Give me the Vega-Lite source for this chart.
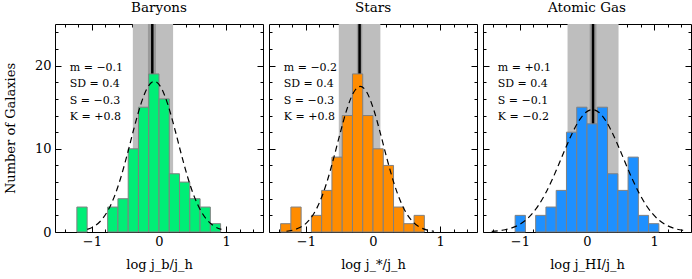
{
  "$schema": "https://vega.github.io/schema/vega-lite/v6.json",
  "padding": {"left": 3, "top": 0, "right": 2, "bottom": 2},
  "background": "white",
  "datasets": {
    "bars": [
      {"panel": "Baryons", "x0": -1.224, "x1": -1.071, "n": 3},
      {"panel": "Baryons", "x0": -0.765, "x1": -0.612, "n": 3},
      {"panel": "Baryons", "x0": -0.612, "x1": -0.459, "n": 4},
      {"panel": "Baryons", "x0": -0.459, "x1": -0.306, "n": 10},
      {"panel": "Baryons", "x0": -0.306, "x1": -0.153, "n": 15},
      {"panel": "Baryons", "x0": -0.153, "x1": 0, "n": 19},
      {"panel": "Baryons", "x0": 0, "x1": 0.153, "n": 16},
      {"panel": "Baryons", "x0": 0.153, "x1": 0.306, "n": 7},
      {"panel": "Baryons", "x0": 0.306, "x1": 0.459, "n": 6},
      {"panel": "Baryons", "x0": 0.459, "x1": 0.612, "n": 4},
      {"panel": "Baryons", "x0": 0.612, "x1": 0.765, "n": 3},
      {"panel": "Baryons", "x0": 0.765, "x1": 0.918, "n": 1},
      {"panel": "Stars", "x0": -1.377, "x1": -1.224, "n": 1},
      {"panel": "Stars", "x0": -1.224, "x1": -1.071, "n": 3},
      {"panel": "Stars", "x0": -0.918, "x1": -0.765, "n": 2},
      {"panel": "Stars", "x0": -0.765, "x1": -0.612, "n": 5},
      {"panel": "Stars", "x0": -0.612, "x1": -0.459, "n": 9},
      {"panel": "Stars", "x0": -0.459, "x1": -0.306, "n": 14},
      {"panel": "Stars", "x0": -0.306, "x1": -0.153, "n": 19},
      {"panel": "Stars", "x0": -0.153, "x1": 0, "n": 14},
      {"panel": "Stars", "x0": 0, "x1": 0.153, "n": 10},
      {"panel": "Stars", "x0": 0.153, "x1": 0.306, "n": 8},
      {"panel": "Stars", "x0": 0.306, "x1": 0.459, "n": 3},
      {"panel": "Stars", "x0": 0.459, "x1": 0.612, "n": 1},
      {"panel": "Stars", "x0": 0.612, "x1": 0.765, "n": 2},
      {"panel": "Atomic Gas", "x0": -1.071, "x1": -0.918, "n": 2},
      {"panel": "Atomic Gas", "x0": -0.765, "x1": -0.612, "n": 2},
      {"panel": "Atomic Gas", "x0": -0.612, "x1": -0.459, "n": 3},
      {"panel": "Atomic Gas", "x0": -0.459, "x1": -0.306, "n": 5},
      {"panel": "Atomic Gas", "x0": -0.306, "x1": -0.153, "n": 12},
      {"panel": "Atomic Gas", "x0": -0.153, "x1": 0, "n": 15},
      {"panel": "Atomic Gas", "x0": 0, "x1": 0.153, "n": 13},
      {"panel": "Atomic Gas", "x0": 0.153, "x1": 0.306, "n": 15},
      {"panel": "Atomic Gas", "x0": 0.306, "x1": 0.459, "n": 7},
      {"panel": "Atomic Gas", "x0": 0.459, "x1": 0.612, "n": 5},
      {"panel": "Atomic Gas", "x0": 0.612, "x1": 0.765, "n": 9},
      {"panel": "Atomic Gas", "x0": 0.765, "x1": 0.918, "n": 2},
      {"panel": "Atomic Gas", "x0": 0.918, "x1": 1.071, "n": 1}
    ],
    "bands": [
      {"panel": "Baryons", "lo": -0.39, "hi": 0.21, "dlo": -0.165, "dhi": -0.045, "m": -0.10},
      {"panel": "Stars", "lo": -0.51, "hi": 0.11, "dlo": -0.24, "dhi": -0.16, "m": -0.20},
      {"panel": "Atomic Gas", "lo": -0.29, "hi": 0.47, "dlo": 0.04, "dhi": 0.14, "m": 0.09}
    ],
    "stats": [
      {"panel": "Baryons", "txt": "m = −0.1\nSD = 0.4\nS = −0.3\nK = +0.8"},
      {"panel": "Stars", "txt": "m = −0.2\nSD = 0.4\nS = −0.3\nK = +0.8"},
      {"panel": "Atomic Gas", "txt": "m = +0.1\nSD = 0.4\nS = −0.1\nK = −0.2"}
    ],
    "curves": [
      {"panel": "Baryons", "x": -1.07, "y": 0.31},
      {"panel": "Baryons", "x": -0.97, "y": 0.66},
      {"panel": "Baryons", "x": -0.87, "y": 1.33},
      {"panel": "Baryons", "x": -0.77, "y": 2.45},
      {"panel": "Baryons", "x": -0.67, "y": 4.16},
      {"panel": "Baryons", "x": -0.57, "y": 6.52},
      {"panel": "Baryons", "x": -0.47, "y": 9.42},
      {"panel": "Baryons", "x": -0.37, "y": 12.54},
      {"panel": "Baryons", "x": -0.27, "y": 15.37},
      {"panel": "Baryons", "x": -0.17, "y": 17.38},
      {"panel": "Baryons", "x": -0.07, "y": 18.1},
      {"panel": "Baryons", "x": 0.03, "y": 17.38},
      {"panel": "Baryons", "x": 0.13, "y": 15.37},
      {"panel": "Baryons", "x": 0.23, "y": 12.54},
      {"panel": "Baryons", "x": 0.33, "y": 9.42},
      {"panel": "Baryons", "x": 0.43, "y": 6.52},
      {"panel": "Baryons", "x": 0.53, "y": 4.16},
      {"panel": "Baryons", "x": 0.63, "y": 2.45},
      {"panel": "Baryons", "x": 0.73, "y": 1.33},
      {"panel": "Baryons", "x": 0.83, "y": 0.66},
      {"panel": "Baryons", "x": 0.93, "y": 0.31},
      {"panel": "Stars", "x": -1.29, "y": 0.09},
      {"panel": "Stars", "x": -1.19, "y": 0.23},
      {"panel": "Stars", "x": -1.09, "y": 0.53},
      {"panel": "Stars", "x": -0.99, "y": 1.10},
      {"panel": "Stars", "x": -0.89, "y": 2.10},
      {"panel": "Stars", "x": -0.79, "y": 3.69},
      {"panel": "Stars", "x": -0.69, "y": 5.93},
      {"panel": "Stars", "x": -0.59, "y": 8.76},
      {"panel": "Stars", "x": -0.49, "y": 11.86},
      {"panel": "Stars", "x": -0.39, "y": 14.72},
      {"panel": "Stars", "x": -0.29, "y": 16.76},
      {"panel": "Stars", "x": -0.19, "y": 17.5},
      {"panel": "Stars", "x": -0.09, "y": 16.76},
      {"panel": "Stars", "x": 0.01, "y": 14.72},
      {"panel": "Stars", "x": 0.11, "y": 11.86},
      {"panel": "Stars", "x": 0.21, "y": 8.76},
      {"panel": "Stars", "x": 0.31, "y": 5.93},
      {"panel": "Stars", "x": 0.41, "y": 3.69},
      {"panel": "Stars", "x": 0.51, "y": 2.10},
      {"panel": "Stars", "x": 0.61, "y": 1.10},
      {"panel": "Stars", "x": 0.71, "y": 0.53},
      {"panel": "Stars", "x": 0.81, "y": 0.23},
      {"panel": "Stars", "x": 0.91, "y": 0.09},
      {"panel": "Atomic Gas", "x": -1.42, "y": 0.07},
      {"panel": "Atomic Gas", "x": -1.32, "y": 0.14},
      {"panel": "Atomic Gas", "x": -1.22, "y": 0.27},
      {"panel": "Atomic Gas", "x": -1.12, "y": 0.49},
      {"panel": "Atomic Gas", "x": -1.02, "y": 0.84},
      {"panel": "Atomic Gas", "x": -0.92, "y": 1.38},
      {"panel": "Atomic Gas", "x": -0.82, "y": 2.17},
      {"panel": "Atomic Gas", "x": -0.72, "y": 3.24},
      {"panel": "Atomic Gas", "x": -0.62, "y": 4.62},
      {"panel": "Atomic Gas", "x": -0.52, "y": 6.28},
      {"panel": "Atomic Gas", "x": -0.42, "y": 8.14},
      {"panel": "Atomic Gas", "x": -0.32, "y": 10.07},
      {"panel": "Atomic Gas", "x": -0.22, "y": 11.88},
      {"panel": "Atomic Gas", "x": -0.12, "y": 13.37},
      {"panel": "Atomic Gas", "x": -0.02, "y": 14.36},
      {"panel": "Atomic Gas", "x": 0.08, "y": 14.7},
      {"panel": "Atomic Gas", "x": 0.18, "y": 14.36},
      {"panel": "Atomic Gas", "x": 0.28, "y": 13.37},
      {"panel": "Atomic Gas", "x": 0.38, "y": 11.88},
      {"panel": "Atomic Gas", "x": 0.48, "y": 10.07},
      {"panel": "Atomic Gas", "x": 0.58, "y": 8.14},
      {"panel": "Atomic Gas", "x": 0.68, "y": 6.28},
      {"panel": "Atomic Gas", "x": 0.78, "y": 4.62},
      {"panel": "Atomic Gas", "x": 0.88, "y": 3.24},
      {"panel": "Atomic Gas", "x": 0.98, "y": 2.17},
      {"panel": "Atomic Gas", "x": 1.08, "y": 1.38},
      {"panel": "Atomic Gas", "x": 1.18, "y": 0.84},
      {"panel": "Atomic Gas", "x": 1.28, "y": 0.49},
      {"panel": "Atomic Gas", "x": 1.38, "y": 0.27},
      {"panel": "Atomic Gas", "x": 1.48, "y": 0.14}
    ]
  },
  "config": {
    "view": {"stroke": "black", "strokeWidth": 1},
    "concat": {"spacing": 4},
    "title": {"font": "DejaVu Serif", "fontSize": 13.5, "fontWeight": "normal", "color": "black", "offset": 8},
    "axis": {
      "domain": false, "grid": false, "tickColor": "black", "tickWidth": 1, "zindex": 2,
      "labelFont": "DejaVu Serif", "labelFontSize": 13, "labelColor": "black",
      "titleFont": "DejaVu Serif", "titleFontSize": 13, "titleFontWeight": "normal", "titleColor": "black",
      "labelFlush": false, "labelOverlap": false
    }
  },
  "hconcat": [
    {
      "width": 208, "height": 208,
      "title": {"text": "Baryons", "fontWeight": "normal"},
      "resolve": {"axis": {"x": "independent", "y": "independent"}},
      "layer": [
        {
          "data": {"name": "bands"}, "transform": [{"filter": "datum.panel == 'Baryons'"}],
          "mark": {"type": "rect", "color": "#bebebe"},
          "encoding": {
            "x": {"field": "lo", "type": "quantitative", "scale": {"domain": [-1.55, 1.55], "nice": false}, "axis": {"orient": "bottom", "values": [-1, 0, 1], "format": "d", "tickSize": -6, "labelPadding": 9, "title": "log j_b/j_h", "titlePadding": 10}},
            "x2": {"field": "hi"},
            "y": {"datum": 0, "type": "quantitative", "scale": {"domain": [0, 25], "nice": false}, "axis": {"orient": "left", "values": [0, 10, 20], "format": "d", "tickSize": -6, "labelPadding": 10, "title": "Number of Galaxies", "titlePadding": 17}},
            "y2": {"datum": 25}
          }
        },
        {
          "data": {"name": "bands"}, "transform": [{"filter": "datum.panel == 'Baryons'"}],
          "mark": {"type": "rect", "color": "#9a9a9a"},
          "encoding": {
            "x": {"field": "dlo", "type": "quantitative", "scale": {"domain": [-1.55, 1.55], "nice": false}, "axis": {"orient": "bottom", "values": [-1.4, -1.2, -0.8, -0.6, -0.4, -0.2, 0.2, 0.4, 0.6, 0.8, 1.2, 1.4], "tickSize": -3, "labels": false, "title": null}},
            "x2": {"field": "dhi"},
            "y": {"datum": 0, "type": "quantitative", "scale": {"domain": [0, 25], "nice": false}, "axis": {"orient": "left", "values": [2, 4, 6, 8, 12, 14, 16, 18, 22, 24], "tickSize": -3, "labels": false, "title": null}},
            "y2": {"datum": 25}
          }
        },
        {
          "data": {"name": "bands"}, "transform": [{"filter": "datum.panel == 'Baryons'"}],
          "mark": {"type": "rule", "color": "black", "strokeWidth": 2.5},
          "encoding": {
            "x": {"field": "m", "type": "quantitative", "scale": {"domain": [-1.55, 1.55], "nice": false}, "axis": {"orient": "top", "values": [-1, 0, 1], "tickSize": -6, "labels": false, "title": null}},
            "y": {"datum": 0, "type": "quantitative", "scale": {"domain": [0, 25], "nice": false}, "axis": {"orient": "right", "values": [0, 10, 20], "tickSize": -6, "labels": false, "title": null}},
            "y2": {"datum": 25}
          }
        },
        {
          "data": {"name": "bars"}, "transform": [{"filter": "datum.panel == 'Baryons'"}],
          "mark": {"type": "rect", "fill": "#00EE76", "stroke": "#808080", "strokeWidth": 1},
          "encoding": {
            "x": {"field": "x0", "type": "quantitative", "scale": {"domain": [-1.55, 1.55], "nice": false}, "axis": {"orient": "top", "values": [-1.4, -1.2, -0.8, -0.6, -0.4, -0.2, 0.2, 0.4, 0.6, 0.8, 1.2, 1.4], "tickSize": -3, "labels": false, "title": null}},
            "x2": {"field": "x1"},
            "y": {"field": "n", "type": "quantitative", "scale": {"domain": [0, 25], "nice": false}, "axis": {"orient": "right", "values": [2, 4, 6, 8, 12, 14, 16, 18, 22, 24], "tickSize": -3, "labels": false, "title": null}},
            "y2": {"datum": 0}
          }
        },
        {
          "data": {"name": "curves"}, "transform": [{"filter": "datum.panel == 'Baryons'"}],
          "mark": {"type": "line", "color": "black", "strokeWidth": 1.2, "strokeDash": [6, 4], "interpolate": "monotone"},
          "encoding": {
            "x": {"field": "x", "type": "quantitative", "scale": {"domain": [-1.55, 1.55], "nice": false}, "axis": null},
            "y": {"field": "y", "type": "quantitative", "scale": {"domain": [0, 25], "nice": false}, "axis": null}
          }
        },
        {
          "data": {"name": "stats"}, "transform": [{"filter": "datum.panel == 'Baryons'"}],
          "mark": {"type": "text", "align": "left", "baseline": "middle", "lineBreak": "\n", "lineHeight": 16.5, "font": "DejaVu Serif", "fontSize": 11, "color": "black"},
          "encoding": {
            "x": {"datum": -1.33, "type": "quantitative", "scale": {"domain": [-1.55, 1.55], "nice": false}, "axis": null},
            "y": {"datum": 19.75, "type": "quantitative", "scale": {"domain": [0, 25], "nice": false}, "axis": null},
            "text": {"field": "txt", "type": "nominal"}
          }
        }
      ]
    },
    {
      "width": 208, "height": 208,
      "title": {"text": "Stars", "fontWeight": "normal"},
      "resolve": {"axis": {"x": "independent", "y": "independent"}},
      "layer": [
        {
          "data": {"name": "bands"}, "transform": [{"filter": "datum.panel == 'Stars'"}],
          "mark": {"type": "rect", "color": "#bebebe"},
          "encoding": {
            "x": {"field": "lo", "type": "quantitative", "scale": {"domain": [-1.55, 1.55], "nice": false}, "axis": {"orient": "bottom", "values": [-1, 0, 1], "format": "d", "tickSize": -6, "labelPadding": 9, "title": "log j_*/j_h", "titlePadding": 10}},
            "x2": {"field": "hi"},
            "y": {"datum": 0, "type": "quantitative", "scale": {"domain": [0, 25], "nice": false}, "axis": {"orient": "left", "values": [0, 10, 20], "tickSize": -6, "labels": false, "title": null}},
            "y2": {"datum": 25}
          }
        },
        {
          "data": {"name": "bands"}, "transform": [{"filter": "datum.panel == 'Stars'"}],
          "mark": {"type": "rect", "color": "#9a9a9a"},
          "encoding": {
            "x": {"field": "dlo", "type": "quantitative", "scale": {"domain": [-1.55, 1.55], "nice": false}, "axis": {"orient": "bottom", "values": [-1.4, -1.2, -0.8, -0.6, -0.4, -0.2, 0.2, 0.4, 0.6, 0.8, 1.2, 1.4], "tickSize": -3, "labels": false, "title": null}},
            "x2": {"field": "dhi"},
            "y": {"datum": 0, "type": "quantitative", "scale": {"domain": [0, 25], "nice": false}, "axis": {"orient": "left", "values": [2, 4, 6, 8, 12, 14, 16, 18, 22, 24], "tickSize": -3, "labels": false, "title": null}},
            "y2": {"datum": 25}
          }
        },
        {
          "data": {"name": "bands"}, "transform": [{"filter": "datum.panel == 'Stars'"}],
          "mark": {"type": "rule", "color": "black", "strokeWidth": 2.5},
          "encoding": {
            "x": {"field": "m", "type": "quantitative", "scale": {"domain": [-1.55, 1.55], "nice": false}, "axis": {"orient": "top", "values": [-1, 0, 1], "tickSize": -6, "labels": false, "title": null}},
            "y": {"datum": 0, "type": "quantitative", "scale": {"domain": [0, 25], "nice": false}, "axis": {"orient": "right", "values": [0, 10, 20], "tickSize": -6, "labels": false, "title": null}},
            "y2": {"datum": 25}
          }
        },
        {
          "data": {"name": "bars"}, "transform": [{"filter": "datum.panel == 'Stars'"}],
          "mark": {"type": "rect", "fill": "#FF8C00", "stroke": "#808080", "strokeWidth": 1},
          "encoding": {
            "x": {"field": "x0", "type": "quantitative", "scale": {"domain": [-1.55, 1.55], "nice": false}, "axis": {"orient": "top", "values": [-1.4, -1.2, -0.8, -0.6, -0.4, -0.2, 0.2, 0.4, 0.6, 0.8, 1.2, 1.4], "tickSize": -3, "labels": false, "title": null}},
            "x2": {"field": "x1"},
            "y": {"field": "n", "type": "quantitative", "scale": {"domain": [0, 25], "nice": false}, "axis": {"orient": "right", "values": [2, 4, 6, 8, 12, 14, 16, 18, 22, 24], "tickSize": -3, "labels": false, "title": null}},
            "y2": {"datum": 0}
          }
        },
        {
          "data": {"name": "curves"}, "transform": [{"filter": "datum.panel == 'Stars'"}],
          "mark": {"type": "line", "color": "black", "strokeWidth": 1.2, "strokeDash": [6, 4], "interpolate": "monotone"},
          "encoding": {
            "x": {"field": "x", "type": "quantitative", "scale": {"domain": [-1.55, 1.55], "nice": false}, "axis": null},
            "y": {"field": "y", "type": "quantitative", "scale": {"domain": [0, 25], "nice": false}, "axis": null}
          }
        },
        {
          "data": {"name": "stats"}, "transform": [{"filter": "datum.panel == 'Stars'"}],
          "mark": {"type": "text", "align": "left", "baseline": "middle", "lineBreak": "\n", "lineHeight": 16.5, "font": "DejaVu Serif", "fontSize": 11, "color": "black"},
          "encoding": {
            "x": {"datum": -1.33, "type": "quantitative", "scale": {"domain": [-1.55, 1.55], "nice": false}, "axis": null},
            "y": {"datum": 19.75, "type": "quantitative", "scale": {"domain": [0, 25], "nice": false}, "axis": null},
            "text": {"field": "txt", "type": "nominal"}
          }
        }
      ]
    },
    {
      "width": 208, "height": 208,
      "title": {"text": "Atomic Gas", "fontWeight": "normal"},
      "resolve": {"axis": {"x": "independent", "y": "independent"}},
      "layer": [
        {
          "data": {"name": "bands"}, "transform": [{"filter": "datum.panel == 'Atomic Gas'"}],
          "mark": {"type": "rect", "color": "#bebebe"},
          "encoding": {
            "x": {"field": "lo", "type": "quantitative", "scale": {"domain": [-1.55, 1.55], "nice": false}, "axis": {"orient": "bottom", "values": [-1, 0, 1], "format": "d", "tickSize": -6, "labelPadding": 9, "title": "log j_HI/j_h", "titlePadding": 10}},
            "x2": {"field": "hi"},
            "y": {"datum": 0, "type": "quantitative", "scale": {"domain": [0, 25], "nice": false}, "axis": {"orient": "left", "values": [0, 10, 20], "tickSize": -6, "labels": false, "title": null}},
            "y2": {"datum": 25}
          }
        },
        {
          "data": {"name": "bands"}, "transform": [{"filter": "datum.panel == 'Atomic Gas'"}],
          "mark": {"type": "rect", "color": "#9a9a9a"},
          "encoding": {
            "x": {"field": "dlo", "type": "quantitative", "scale": {"domain": [-1.55, 1.55], "nice": false}, "axis": {"orient": "bottom", "values": [-1.4, -1.2, -0.8, -0.6, -0.4, -0.2, 0.2, 0.4, 0.6, 0.8, 1.2, 1.4], "tickSize": -3, "labels": false, "title": null}},
            "x2": {"field": "dhi"},
            "y": {"datum": 0, "type": "quantitative", "scale": {"domain": [0, 25], "nice": false}, "axis": {"orient": "left", "values": [2, 4, 6, 8, 12, 14, 16, 18, 22, 24], "tickSize": -3, "labels": false, "title": null}},
            "y2": {"datum": 25}
          }
        },
        {
          "data": {"name": "bands"}, "transform": [{"filter": "datum.panel == 'Atomic Gas'"}],
          "mark": {"type": "rule", "color": "black", "strokeWidth": 2.5},
          "encoding": {
            "x": {"field": "m", "type": "quantitative", "scale": {"domain": [-1.55, 1.55], "nice": false}, "axis": {"orient": "top", "values": [-1, 0, 1], "tickSize": -6, "labels": false, "title": null}},
            "y": {"datum": 0, "type": "quantitative", "scale": {"domain": [0, 25], "nice": false}, "axis": {"orient": "right", "values": [0, 10, 20], "tickSize": -6, "labels": false, "title": null}},
            "y2": {"datum": 25}
          }
        },
        {
          "data": {"name": "bars"}, "transform": [{"filter": "datum.panel == 'Atomic Gas'"}],
          "mark": {"type": "rect", "fill": "#1E90FF", "stroke": "#808080", "strokeWidth": 1},
          "encoding": {
            "x": {"field": "x0", "type": "quantitative", "scale": {"domain": [-1.55, 1.55], "nice": false}, "axis": {"orient": "top", "values": [-1.4, -1.2, -0.8, -0.6, -0.4, -0.2, 0.2, 0.4, 0.6, 0.8, 1.2, 1.4], "tickSize": -3, "labels": false, "title": null}},
            "x2": {"field": "x1"},
            "y": {"field": "n", "type": "quantitative", "scale": {"domain": [0, 25], "nice": false}, "axis": {"orient": "right", "values": [2, 4, 6, 8, 12, 14, 16, 18, 22, 24], "tickSize": -3, "labels": false, "title": null}},
            "y2": {"datum": 0}
          }
        },
        {
          "data": {"name": "curves"}, "transform": [{"filter": "datum.panel == 'Atomic Gas'"}],
          "mark": {"type": "line", "color": "black", "strokeWidth": 1.2, "strokeDash": [6, 4], "interpolate": "monotone"},
          "encoding": {
            "x": {"field": "x", "type": "quantitative", "scale": {"domain": [-1.55, 1.55], "nice": false}, "axis": null},
            "y": {"field": "y", "type": "quantitative", "scale": {"domain": [0, 25], "nice": false}, "axis": null}
          }
        },
        {
          "data": {"name": "stats"}, "transform": [{"filter": "datum.panel == 'Atomic Gas'"}],
          "mark": {"type": "text", "align": "left", "baseline": "middle", "lineBreak": "\n", "lineHeight": 16.5, "font": "DejaVu Serif", "fontSize": 11, "color": "black"},
          "encoding": {
            "x": {"datum": -1.33, "type": "quantitative", "scale": {"domain": [-1.55, 1.55], "nice": false}, "axis": null},
            "y": {"datum": 19.75, "type": "quantitative", "scale": {"domain": [0, 25], "nice": false}, "axis": null},
            "text": {"field": "txt", "type": "nominal"}
          }
        }
      ]
    }
  ]
}
